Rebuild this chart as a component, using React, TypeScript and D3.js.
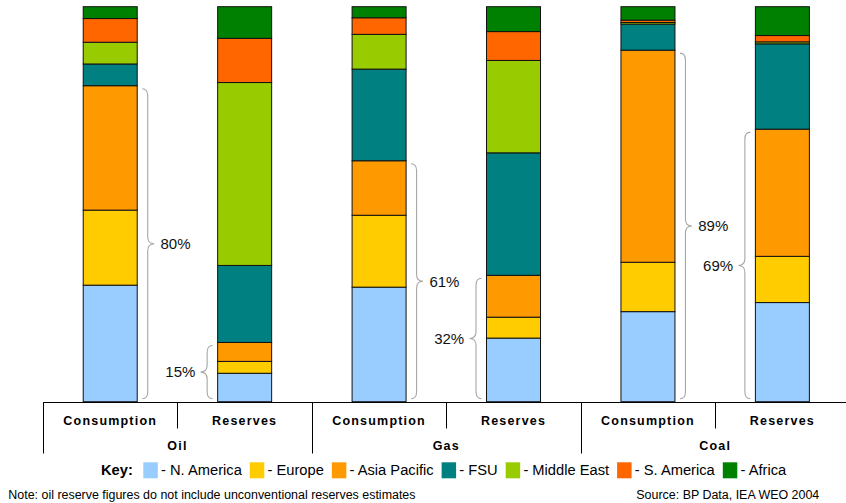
import React, { useEffect, useRef } from "react";
import * as d3 from "d3";

// Fuel groups and the two bars drawn for each of them
const fuels = ["Oil", "Gas", "Coal"];
const measures = ["Consumption", "Reserves"];

// Regions, bottom to top of every stacked bar
const regions = ["N. America", "Europe", "Asia Pacific", "FSU", "Middle East", "S. America", "Africa"];

// Regional share (%) per bar: Oil cons, Oil res, Gas cons, Gas res, Coal cons, Coal res
const northAmerica = [29.5, 7.2, 29.0, 16.1, 22.8, 25.1];
const europe = [19.0, 3.0, 18.2, 5.3, 12.5, 11.7];
const asiaPacific = [31.5, 4.8, 13.8, 10.6, 53.7, 32.2];
const fsu = [5.5, 19.5, 23.2, 31.0, 6.6, 21.6];
const middleEast = [5.5, 46.3, 8.8, 23.4, 0.4, 0.5];
const southAmerica = [6.0, 11.2, 4.2, 7.3, 0.6, 1.6];
const africa = [3.0, 8.0, 2.8, 6.3, 3.4, 7.3];
const regionSeries = [northAmerica, europe, asiaPacific, fsu, middleEast, southAmerica, africa];

// Combined share of N. America + Europe + Asia Pacific, marked with a brace
const shareLabels = [80, 15, 61, 32, 89, 69];

const noteText = "Note: oil reserve figures do not include unconventional reserves estimates";
const sourceText = "Source: BP Data, IEA WEO 2004";

const regionColors = ["#99CCFF", "#FFCC00", "#FF9900", "#008080", "#99CC00", "#FF6600", "#008000"];

const FONT = "'Liberation Sans', Arial, Helvetica, sans-serif";

export default function App() {
  const ref = useRef<SVGSVGElement>(null);

  useEffect(() => {
    const svg = d3.select(ref.current);
    svg.selectAll("*").remove();

    const bars = fuels.flatMap((f) => measures.map((m) => `${f}|${m}`));
    const rows = bars.map((key, i) => {
      const row: Record<string, any> = { key };
      regions.forEach((r, j) => (row[r] = regionSeries[j][i]));
      return row;
    });
    const stacked = d3.stack<any>().keys(regions)(rows);

    const x = d3.scaleBand<string>().domain(bars).range([43, 849.6]).padding(0);
    const y = d3.scaleLinear().domain([0, 100]).range([401.7, 6.7]);
    const barW = 54;
    const barX = (k: string) => (x(k) as number) + (x.bandwidth() - barW) / 2;

    // stacked segments
    const layers = svg.append("g");
    stacked.forEach((layer, j) => {
      layers
        .append("g")
        .selectAll("rect")
        .data(layer)
        .join("rect")
        .attr("x", (d: any) => barX(d.data.key))
        .attr("y", (d) => y(d[1]))
        .attr("width", barW)
        .attr("height", (d) => Math.max(0, y(d[0]) - y(d[1])))
        .attr("fill", regionColors[j])
        .attr("stroke", "#111")
        .attr("stroke-width", 1);
    });

    // braces with share labels
    const braceG = svg.append("g");
    bars.forEach((k, i) => {
      const share = shareLabels[i];
      const y0 = y(share) + 3;
      const y1 = y(0) - 3;
      const ym = (y0 + y1) / 2;
      const right = i % 2 === 0;
      const dir = right ? 1 : -1;
      const xe = right ? barX(k) + barW + 5 : barX(k) - 5;
      const xs = xe + dir * 5.5;
      const xt = xe + dir * 12;
      const r = 7;
      const p = d3.path();
      p.moveTo(xe, y0);
      p.quadraticCurveTo(xs, y0, xs, y0 + r);
      p.lineTo(xs, ym - r);
      p.quadraticCurveTo(xs, ym, xt, ym);
      p.quadraticCurveTo(xs, ym, xs, ym + r);
      p.lineTo(xs, y1 - r);
      p.quadraticCurveTo(xs, y1, xe, y1);
      braceG
        .append("path")
        .attr("d", p.toString())
        .attr("fill", "none")
        .attr("stroke", "#a6a6a6")
        .attr("stroke-width", 1.1);
      braceG
        .append("text")
        .attr("x", right ? xt + 6.3 : xt - 5.3)
        .attr("y", ym + 5.4)
        .attr("text-anchor", right ? "start" : "end")
        .attr("font-family", FONT)
        .attr("font-size", 15)
        .attr("fill", "#111")
        .text(`${share}%`);
    });

    // category axis
    const axis = svg.append("g").attr("stroke", "#000").attr("stroke-width", 1);
    const axisY = 402.5;
    axis.append("line").attr("x1", 43).attr("x2", 846).attr("y1", axisY).attr("y2", axisY);
    const edges = [...bars.map((k) => x(k) as number), 849.6];
    edges.forEach((ex, i) => {
      const px = Math.round(ex) + 0.5;
      axis
        .append("line")
        .attr("x1", px)
        .attr("x2", px)
        .attr("y1", axisY)
        .attr("y2", i % 2 === 0 ? 453.5 : 428.5);
    });

    const labels = svg
      .append("g")
      .attr("font-family", FONT)
      .attr("font-weight", "bold")
      .attr("font-size", 12.5)
      .attr("letter-spacing", 1.2)
      .attr("text-anchor", "middle")
      .attr("fill", "#000");
    bars.forEach((k, i) => {
      labels
        .append("text")
        .attr("x", (x(k) as number) + x.bandwidth() / 2)
        .attr("y", 424.5)
        .text(measures[i % 2]);
    });
    fuels.forEach((f, g) => {
      labels
        .append("text")
        .attr("x", (x(bars[2 * g]) as number) + x.bandwidth())
        .attr("y", 450)
        .text(f);
    });

    // key
    const key = svg.append("g").attr("font-family", FONT).attr("font-size", 14.7).attr("fill", "#000");
    key.append("text").attr("x", 101).attr("y", 474.5).attr("font-weight", "bold").text("Key:");
    let cx = 143.3;
    regions.forEach((r, j) => {
      key
        .append("rect")
        .attr("x", cx)
        .attr("y", 462.3)
        .attr("width", 14.5)
        .attr("height", 16)
        .attr("fill", regionColors[j]);
      const t = key
        .append("text")
        .attr("x", cx + 17.7)
        .attr("y", 474.5)
        .text(`- ${r}`);
      const w = (t.node() as SVGTextElement).getComputedTextLength();
      cx = cx + 17.7 + w + 8;
    });

    // footnotes
    const foot = svg.append("g").attr("font-family", FONT).attr("font-size", 12.45).attr("fill", "#000");
    foot.append("text").attr("x", 8.3).attr("y", 499.3).text(noteText);
    foot.append("text").attr("x", 819.3).attr("y", 499.3).attr("text-anchor", "end").text(sourceText);
  }, []);

  return (
    <svg
      ref={ref}
      width={846}
      height={503}
      style={{ position: "absolute", left: 0, top: 0, background: "#fff", display: "block" }}
    />
  );
}
